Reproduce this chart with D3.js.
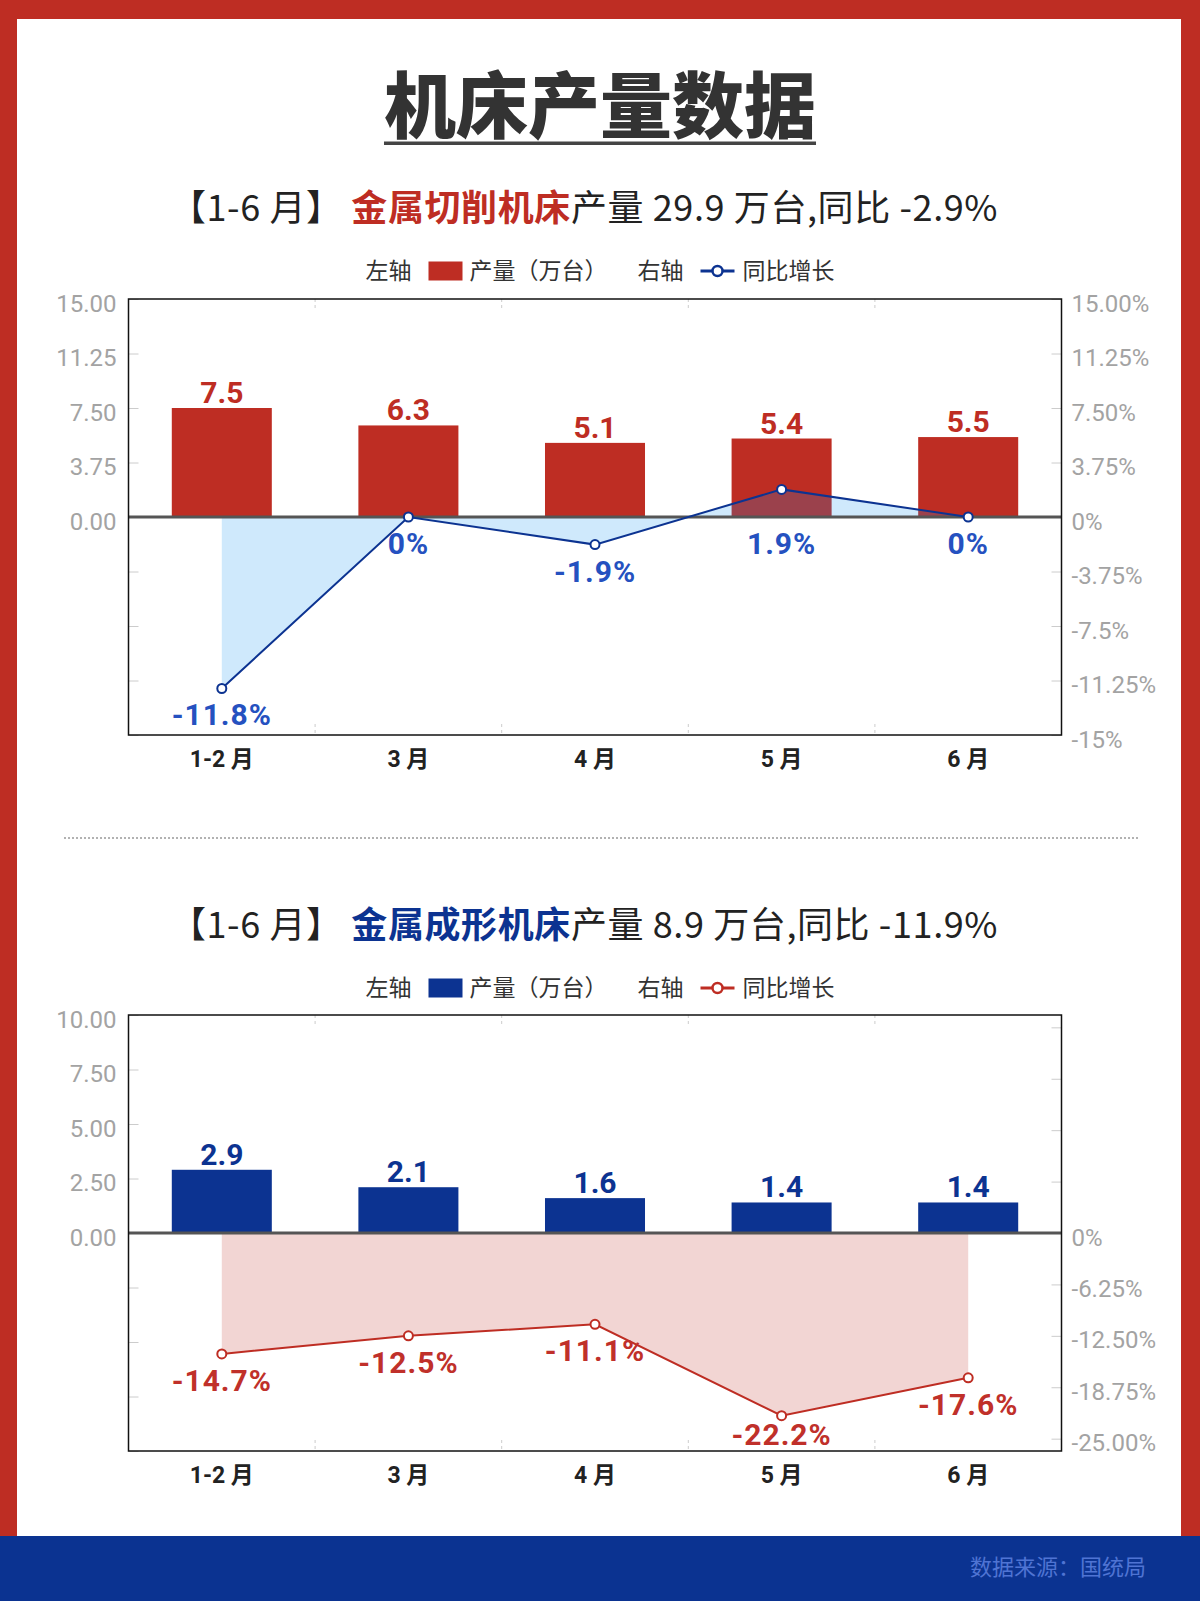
<!DOCTYPE html>
<html><head><meta charset="utf-8">
<script src="https://cdn.jsdelivr.net/npm/d3@7"></script>
<style>html,body{margin:0;padding:0;background:#fff;}svg{display:block;}</style>
</head><body>
<script>
// ---------- data ----------
const months = ["1-2 月", "3 月", "4 月", "5 月", "6 月"];
const cuttingOutput = [7.5, 6.3, 5.1, 5.4, 5.5];
const cuttingYoY = [-11.8, 0, -1.9, 1.9, 0];
const cuttingTotal = "29.9", cuttingTotalYoY = "-2.9%";
const formingOutput = [2.9, 2.1, 1.6, 1.4, 1.4];
const formingYoY = [-14.7, -12.5, -11.1, -22.2, -17.6];
const formingTotal = "8.9", formingTotalYoY = "-11.9%";

const cuttingLeftTicks = [15, 11.25, 7.5, 3.75, 0, -3.75, -7.5, -11.25, -15];
const cuttingLeftLabels = ["15.00", "11.25", "7.50", "3.75", "0.00", "", "", "", ""];
const cuttingRightTicks = [15, 11.25, 7.5, 3.75, 0, -3.75, -7.5, -11.25, -15];
const cuttingRightLabels = ["15.00%", "11.25%", "7.50%", "3.75%", "0%", "-3.75%", "-7.5%", "-11.25%", "-15%"];
const formingLeftTicks = [10, 7.5, 5, 2.5, 0, -2.5, -5, -7.5, -10];
const formingLeftLabels = ["10.00", "7.50", "5.00", "2.50", "0.00", "", "", "", ""];
const formingRightTicks = [25, 18.75, 12.5, 6.25, 0, -6.25, -12.5, -18.75, -25];
const formingRightLabels = ["", "", "", "", "0%", "-6.25%", "-12.50%", "-18.75%", "-25.00%"];

// ---------- style ----------
const RED = "#be2d23", BLUE = "#0c3391";
const W = 1200, H = 1601;
const CJK = "'Noto Sans CJK SC', 'Noto Sans', sans-serif";
const NUM = "Roboto, 'Noto Sans CJK SC', sans-serif";

const svg = d3.select("body").append("svg").attr("width", W).attr("height", H);

// frame
svg.append("rect").attr("x", 0).attr("y", 0).attr("width", W).attr("height", 1536).attr("fill", RED);
svg.append("rect").attr("x", 17).attr("y", 19).attr("width", 1164).attr("height", 1517).attr("fill", "#fff");
svg.append("rect").attr("x", 0).attr("y", 1536).attr("width", W).attr("height", H - 1536).attr("fill", "#0b3391");
svg.append("text").attr("x", 1146).attr("y", 1575).attr("text-anchor", "end")
  .attr("font-family", CJK).attr("font-size", 22).attr("fill", "#4f74d3").text("数据来源：国统局");

// main title
const mt = svg.append("text").attr("x", 600).attr("y", 132).attr("text-anchor", "middle")
  .attr("font-family", CJK).attr("font-weight", 900).attr("font-size", 72).attr("fill", "#333")
  .text("机床产量数据");
const mtw = mt.node().getComputedTextLength();
svg.append("rect").attr("x", 600 - mtw / 2).attr("y", 141.5).attr("width", mtw).attr("height", 3.5).attr("fill", "#444");

// separator
svg.append("line").attr("x1", 64).attr("x2", 1140).attr("y1", 838).attr("y2", 838)
  .attr("stroke", "#999").attr("stroke-width", 1.5).attr("stroke-dasharray", "2,2");

function subtitle(y, highlight, color, total, yoy) {
  const t = svg.append("text").attr("x", 584).attr("y", y).attr("text-anchor", "middle")
    .attr("font-family", CJK).attr("font-size", 36).attr("letter-spacing", 0.6).attr("fill", "#222");
  t.append("tspan").text("【1-6 月】 ");
  t.append("tspan").attr("font-weight", 700).attr("fill", color).text(highlight);
  t.append("tspan").text("产量 " + total + " 万台,同比 " + yoy);
}

function legend(cy, barColor, lineColor) {
  const g = svg.append("g").attr("font-family", CJK).attr("font-size", 23).attr("fill", "#333");
  let x = 0;
  const txt = (s) => { const t = g.append("text").attr("x", x).attr("y", 0).attr("dy", "0.38em").text(s); x += t.node().getComputedTextLength(); };
  txt("左轴"); x += 17;
  g.append("rect").attr("x", x).attr("y", -8.5).attr("width", 34).attr("height", 19).attr("fill", barColor); x += 34 + 7;
  txt("产量（万台）"); x += 30;
  txt("右轴"); x += 17;
  g.append("line").attr("x1", x).attr("x2", x + 34).attr("y1", 1).attr("y2", 1).attr("stroke", lineColor).attr("stroke-width", 3);
  g.append("circle").attr("cx", x + 17).attr("cy", 1).attr("r", 5).attr("fill", "#fff").attr("stroke", lineColor).attr("stroke-width", 2.5);
  x += 34 + 8;
  txt("同比增长");
  g.attr("transform", `translate(${600 - x / 2},${cy})`);
}

function chart(cfg) {
  const x0 = 128.5, x1 = 1061.5, y0 = cfg.top, y1 = cfg.top + 436;
  const g = svg.append("g");
  const xb = d3.scaleBand().domain(months).range([x0, x1]).paddingInner(0.464).paddingOuter(0.232);
  const yL = d3.scaleLinear().domain(cfg.leftDomain).range([y1, y0]);
  const yR = d3.scaleLinear().domain(cfg.rightDomain).range([y1, y0]);
  const cx = (m) => xb(m) + xb.bandwidth() / 2;

  // band boundary dashed ticks (top & bottom)
  const step = xb.step();
  for (let i = 1; i < months.length; i++) {
    const xx = x0 + step * i;
    [[y0, y0 + 11], [y1 - 11, y1]].forEach(([a, b]) =>
      g.append("line").attr("x1", xx).attr("x2", xx).attr("y1", a).attr("y2", b)
        .attr("stroke", "#ccc").attr("stroke-width", 1).attr("stroke-dasharray", "3,3"));
  }

  // axes
  const la = g.append("g").attr("transform", `translate(${x0},0)`)
    .call(d3.axisLeft(yL).tickValues(cfg.leftTicks).tickSize(-10).tickPadding(12)
      .tickFormat((d, i) => cfg.leftLabels[i]));
  const ra = g.append("g").attr("transform", `translate(${x1},0)`)
    .call(d3.axisRight(yR).tickValues(cfg.rightTicks).tickSize(-10).tickPadding(10)
      .tickFormat((d, i) => cfg.rightLabels[i]));
  [la, ra].forEach(a => {
    a.select(".domain").remove();
    a.selectAll(".tick line").attr("stroke", "#ccc");
    a.selectAll(".tick text").attr("fill", "#a3a3a3").attr("font-family", NUM)
      .attr("font-size", 24).attr("dy", "0.5em");
  });

  // bars
  g.selectAll(".bar").data(cfg.output).join("rect")
    .attr("x", (d, i) => xb(months[i])).attr("width", xb.bandwidth())
    .attr("y", d => yL(d)).attr("height", d => yL(0) - yL(d)).attr("fill", cfg.barColor);

  // area
  const area = d3.area().x((d, i) => cx(months[i])).y0(yR(0)).y1(d => yR(d));
  g.append("path").datum(cfg.yoy).attr("d", area).attr("fill", cfg.areaColor).attr("fill-opacity", 0.2);

  // zero line
  g.append("line").attr("x1", x0).attr("x2", x1).attr("y1", yL(0)).attr("y2", yL(0))
    .attr("stroke", "#555").attr("stroke-width", 3);

  // plot border
  g.append("rect").attr("x", x0).attr("y", y0).attr("width", x1 - x0).attr("height", y1 - y0)
    .attr("fill", "none").attr("stroke", "#111").attr("stroke-width", 1.5);

  // line
  const line = d3.line().x((d, i) => cx(months[i])).y(d => yR(d));
  g.append("path").datum(cfg.yoy).attr("d", line).attr("fill", "none")
    .attr("stroke", cfg.lineColor).attr("stroke-width", 2);
  g.selectAll(".pt").data(cfg.yoy).join("circle")
    .attr("cx", (d, i) => cx(months[i])).attr("cy", d => yR(d)).attr("r", 4.5)
    .attr("fill", "#fff").attr("stroke", cfg.lineColor).attr("stroke-width", 2);

  // bar labels
  g.selectAll(".bl").data(cfg.output).join("text")
    .attr("x", (d, i) => cx(months[i])).attr("y", d => yL(d) - 5).attr("text-anchor", "middle")
    .attr("font-family", NUM).attr("font-weight", 700).attr("font-size", 30).attr("fill", cfg.barLabelColor)
    .text(d => d3.format(".1f")(d));

  // line labels
  g.selectAll(".ll").data(cfg.yoy).join("text")
    .attr("x", (d, i) => cx(months[i])).attr("y", d => Math.min(Math.max(yR(d), yR(0)) + 37, y1 - 6)).attr("text-anchor", "middle")
    .attr("font-family", NUM).attr("font-weight", 700).attr("font-size", 30).attr("letter-spacing", 1)
    .attr("fill", cfg.lineLabelColor).text(d => d + "%");

  // x labels
  g.selectAll(".xl").data(months).join("text")
    .attr("x", d => cx(d)).attr("y", y1 + 32).attr("text-anchor", "middle")
    .attr("font-family", NUM).attr("font-weight", 700).attr("font-size", 23).attr("fill", "#222")
    .text(d => d);
}

subtitle(221, "金属切削机床", RED, cuttingTotal, cuttingTotalYoY);
legend(270, RED, BLUE);
chart({
  top: 299, output: cuttingOutput, yoy: cuttingYoY,
  leftDomain: [-15, 15], rightDomain: [-15, 15],
  leftTicks: cuttingLeftTicks, leftLabels: cuttingLeftLabels,
  rightTicks: cuttingRightTicks, rightLabels: cuttingRightLabels,
  barColor: RED, barLabelColor: RED, lineColor: BLUE, lineLabelColor: "#2551c0", areaColor: "#0f91f0"
});

subtitle(938, "金属成形机床", BLUE, formingTotal, formingTotalYoY);
legend(987, BLUE, RED);
chart({
  top: 1015, output: formingOutput, yoy: formingYoY,
  leftDomain: [-10, 10], rightDomain: [-26.5, 26.5],
  leftTicks: formingLeftTicks, leftLabels: formingLeftLabels,
  rightTicks: formingRightTicks, rightLabels: formingRightLabels,
  barColor: BLUE, barLabelColor: BLUE, lineColor: RED, lineLabelColor: "#c0302a", areaColor: RED
});
</script>
</body></html>
